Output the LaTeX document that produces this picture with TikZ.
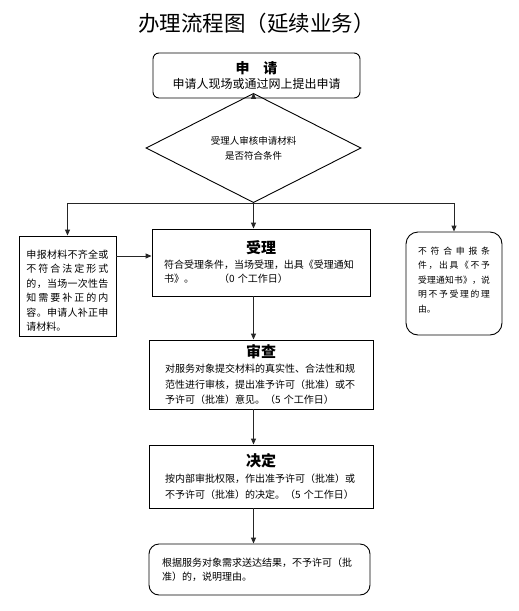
\documentclass[tikz,border=0pt]{standalone}
\usepackage{fontspec}
\setmainfont{Noto Sans CJK SC}
\usetikzlibrary{shapes.geometric,arrows.meta}
\def\mysprB#1{#1\mysprC}
\def\mysprC#1{\ifx#1\relax\else\hfil#1\expandafter\mysprC\fi}
\newcommand\myspread[1]{\makebox[\hsize][s]{\mysprB#1\relax}}
\begin{document}
\begin{tikzpicture}[x=1pt,y=-1pt,
  box/.style={draw=black,line width=0.9pt,inner sep=0pt,align=left,font=\fontsize{10}{15}\selectfont},
  arr/.style={draw=black!85,line width=0.9pt,-{Triangle[length=6pt,width=5pt]}},
  plain/.style={draw=black!85,line width=0.9pt},
  ttl/.style={font=\fontsize{15}{15}\selectfont\bfseries}
  ]
\useasboundingbox[fill=white] (0,0) rectangle (519,611);
\node[font=\fontsize{21.5}{24}\selectfont] (title) at (256.5,23) {办理流程图（延续业务）};

\node[box, rounded corners=6pt, minimum width=207pt, minimum height=45pt, align=center] (apply) at (256.5,75.5)
  {{\fontsize{14}{16}\selectfont\bfseries 申\quad 请}\\{\fontsize{12}{16}\selectfont 申请人现场或通过网上提出申请}};

\node[draw=black, line width=0.9pt, diamond, minimum width=215pt, minimum height=69pt, inner sep=0pt, align=center,
  font=\fontsize{9.5}{15}\selectfont] (check) at (253.5,148) {受理人审核申请材料\\是否符合条件};

\node[box, minimum width=97pt, minimum height=100pt, text width=82pt, font=\fontsize{10}{14.5}\selectfont] (left) at (67.5,286)
  {\rule{0pt}{18pt}\myspread{申报材料不齐全或}\\\myspread{不符合法定形式}\\\myspread{的，当场一次性告}\\\myspread{知需要补正的内}\\\myspread{容。申请人补正申}\\请材料。};

\node[box, rounded corners=12pt, minimum width=96pt, minimum height=103pt, text width=72pt, font=\fontsize{8.8}{14.5}\selectfont] (right) at (454,283.5)
  {\myspread{不符合申报条}\\\myspread{件，出具《不予}\\\myspread{受理通知书》，说}\\\myspread{明不予受理的理}\\由。\rule[-8pt]{0pt}{0pt}};

\node[box, minimum width=218pt, minimum height=67pt, text width=194pt, font=\fontsize{10}{14.5}\selectfont] (accept) at (261,262.5)
  {\makebox[\hsize][c]{\fontsize{15}{15}\selectfont\bfseries 受理}\\符合受理条件，当场受理，出具《受理通知\\书》。\hspace{2.5em}（0 个工作日）};

\node[box, minimum width=224pt, minimum height=69pt, text width=192pt, font=\fontsize{10}{15.5}\selectfont] (review) at (261,374.5)
  {\makebox[\hsize][c]{\fontsize{15}{15}\selectfont\bfseries 审查}\\对服务对象提交材料的真实性、合法性和规\\范性进行审核，提出准予许可（批准）或不\\予许可（批准）意见。（5 个工作日）};

\node[box, minimum width=224pt, minimum height=63pt, text width=192pt, font=\fontsize{10}{16}\selectfont] (decide) at (261,476.5)
  {\makebox[\hsize][c]{\fontsize{15}{15}\selectfont\bfseries 决定}\\按内部审批权限，作出准予许可（批准）或\\不予许可（批准）的决定。（5 个工作日）};

\node[box, rounded corners=10pt, minimum width=221pt, minimum height=51pt, text width=195pt, font=\fontsize{10}{14.5}\selectfont] (result) at (259.5,569.5)
  {根据服务对象需求送达结果，不予许可（批\\准）的，说明理由。};

\coordinate (col) at (253.5,0);
\coordinate (j) at (253.5,203);
\draw[arr] (col |- apply.south) -- (check.north);
\draw[plain] (check.south) -- (j);
\draw[arr] (j) -| (left.north);
\draw[arr] (j) -| (right.north);
\draw[arr] (j) -- (j |- accept.north);
\coordinate (lo) at ([yshift=30pt]left.east);
\draw[arr] (lo) -- (lo -| accept.west);
\draw[arr] (col |- accept.south) -- (col |- review.north);
\draw[arr] (col |- review.south) -- (col |- decide.north);
\draw[arr] (col |- decide.south) -- (col |- result.north);
\end{tikzpicture}
\end{document}
